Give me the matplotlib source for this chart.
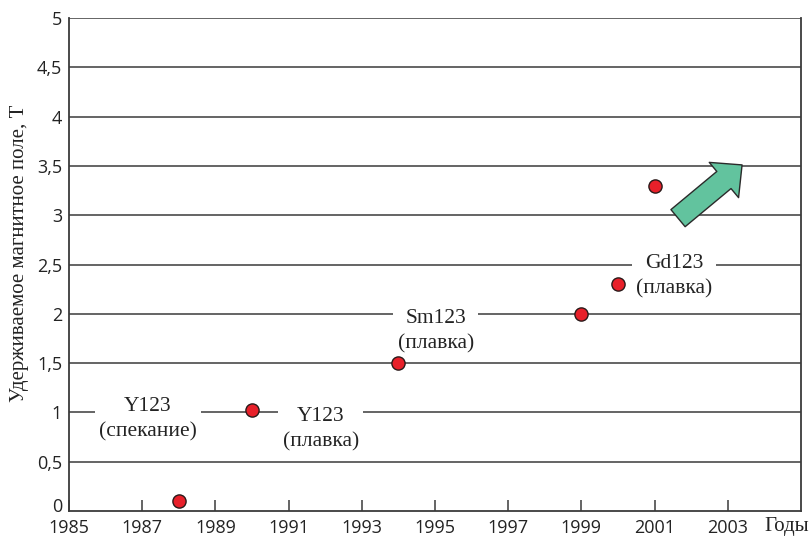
import matplotlib
matplotlib.use("Agg")
import matplotlib.pyplot as plt
from matplotlib.patches import FancyArrowPatch
from matplotlib.transforms import ScaledTranslation

# data
years = [1988, 1990, 1994, 1999, 2000, 2001]
field_t = [0.1, 1.02, 1.5, 2.0, 2.3, 3.3]

label_texts = ["Y123\n(спекание)", "Y123\n(плавка)", "Sm123\n(плавка)", "Gd123\n(плавка)"]
label_x = [1987.16, 1991.88, 1995.02, 2001.53]
label_y = [0.93, 0.83, 1.825, 2.38]

arrow_tail = (2001.64, 2.97)
arrow_tip = (2003.39, 3.51)

x_ticks = list(range(1985, 2004, 2))
y_ticks = [0, 0.5, 1, 1.5, 2, 2.5, 3, 3.5, 4, 4.5, 5]
y_tick_labels = [f"{v:g}".replace(".", ",") for v in y_ticks]

sans = "Open Sans"
serif = "Liberation Serif"
line_col = "#3a3a3a"
text_col = "#232323"

fig = plt.figure(figsize=(8.09, 5.36), dpi=100)
ax = fig.add_axes([69 / 809, 25 / 536, 732 / 809, 493 / 536])

ax.set_xlim(1985, 2005)
ax.set_ylim(0, 5)

for v in y_ticks[1:]:
    ax.axhline(v, color=line_col, lw=1.1, zorder=1)

for txt, x, y in zip(label_texts, label_x, label_y):
    ax.text(x, y, txt, ha="center", va="center", family=serif, fontsize=15.5,
            color=text_col, linespacing=1.4, zorder=3,
            bbox=dict(boxstyle="square,pad=0.2", fc="white", ec="none"))

ax.plot(years, field_t, ls="none", marker="o", ms=9.5, mfc="#e8202a",
        mec="#2a1a1a", mew=1.0, zorder=4, clip_on=False)

arrow = FancyArrowPatch(arrow_tail, arrow_tip,
                        arrowstyle="simple,head_length=17,head_width=33,tail_width=16",
                        mutation_scale=1, shrinkA=0, shrinkB=0,
                        fc="#62c39e", ec="#2a2a2a", lw=1.0, zorder=4)
ax.add_patch(arrow)

ax.set_xticks(x_ticks)
ax.set_xticklabels([str(t) for t in x_ticks], family=sans, fontsize=13, color=text_col)
ax.set_yticks(y_ticks)
ax.set_yticklabels(y_tick_labels, family=sans, fontsize=13, color=text_col)
ax.tick_params(axis="x", direction="in", length=8, width=1.1, color=line_col, pad=6)
ax.tick_params(axis="y", length=0, pad=5)
for lbl in ax.get_yticklabels():
    lbl.set_verticalalignment("center_baseline")
# the "0" sits a little higher in the original so it clears "1985"
zero_lbl = ax.get_yticklabels()[0]
zero_lbl.set_transform(zero_lbl.get_transform() + ScaledTranslation(0, 4 / 72, fig.dpi_scale_trans))

for side in ["left", "bottom", "right"]:
    ax.spines[side].set_color(line_col)
    ax.spines[side].set_linewidth(1.3)
ax.spines["top"].set_visible(False)

ax.set_ylabel("Удерживаемое магнитное поле, Т", family=serif, fontsize=15,
              color=text_col)
ax.yaxis.set_label_coords(-0.054, 0.522)
fig.text(787 / 809, 9 / 536, "Годы", family=serif, fontsize=15,
         color=text_col, ha="center", va="center")

fig.savefig("out.png", dpi=100)
